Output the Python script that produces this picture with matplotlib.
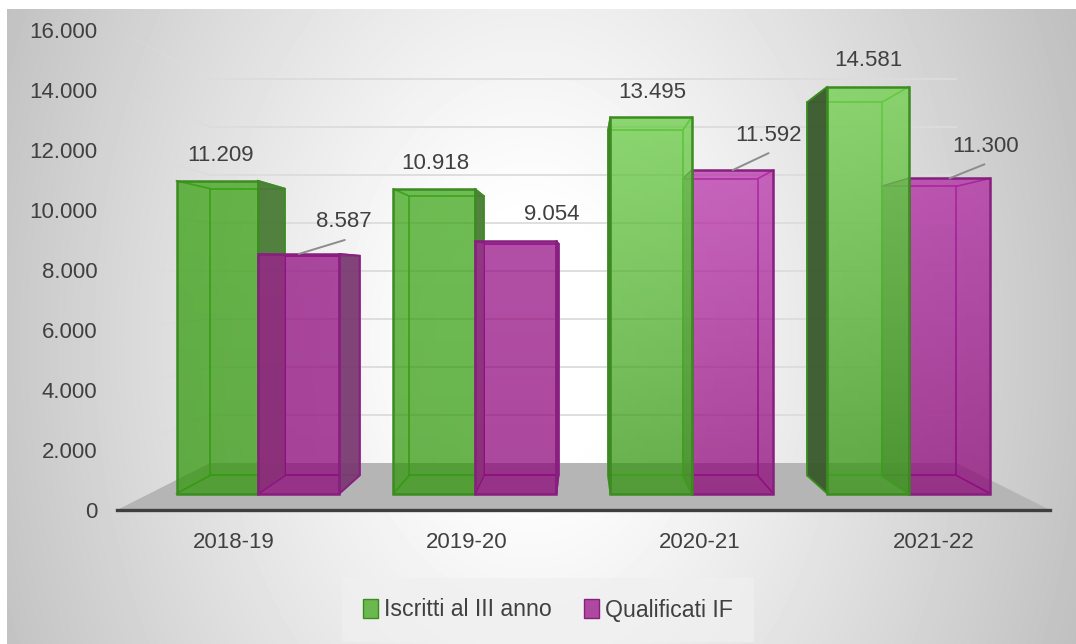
import numpy as np
import matplotlib
matplotlib.use("Agg")
import matplotlib.pyplot as plt
from matplotlib.patches import Patch, Polygon
from matplotlib.ticker import FuncFormatter

plt.rcParams['font.family'] = ['Liberation Sans', 'DejaVu Sans']

anni = ["2018-19", "2019-20", "2020-21", "2021-22"]
iscritti = [11209, 10918, 13495, 14581]
qualificati = [8587, 9054, 11592, 11300]
y_ticks = [0, 2000, 4000, 6000, 8000, 10000, 12000, 14000, 16000]

# label offsets from the top of the bar, pixels
off_iscritti = [(3, 25), (1, 25), (1, 25), (0, 26)]
off_qualificati = [(45, 32), (36, 26), (36, 35), (36, 32)]
leader_qualificati = [(46, 14), None, (36, 17), (35, 14)]

W, H = 1076, 644
TXT = "#404040"
FS = 16

# perspective: depth planes shrink towards a vanishing point
VX, VY = 1.494, 7833
S_WALL, S_FRONT, S_BACK = 0.80, 0.93, 0.853
BAR_W = 0.3756


def proj(x, y, s):
    return VX + s * (x - VX), VY + s * (y - VY)


def box(x, y, s):
    return [proj(x, 0, s), proj(x + BAR_W, 0, s), proj(x + BAR_W, y, s), proj(x, y, s)]


fig = plt.figure(figsize=(W / 100, H / 100), dpi=100, facecolor="white")

# background
bg = fig.add_axes([0, 0, 1, 1], zorder=0)
gx, gy = np.meshgrid(np.arange(W), np.arange(H))
d = np.sqrt(((gx - 530) / 560.0) ** 2 + ((gy - 340) / 800.0) ** 2)
grey = np.clip(1 - 0.28 * np.clip(d - 0.15, 0, None) ** 1.1, 0, 1)
bg.imshow(grey, cmap="gray", vmin=0, vmax=1, extent=(0, W, H, 0), aspect="auto")
bg.set_xlim(0, W)
bg.set_ylim(H, 0)
bg.axis("off")
for r in [(0, 0, W, 9), (0, 0, 7, H)]:
    bg.add_patch(plt.Rectangle(r[:2], r[2], r[3], color="white", lw=0))

ax = fig.add_axes([117 / W, (H - 510) / H, 933 / W, 480 / H], zorder=1)
ax.patch.set_alpha(0)
ax.set_xlim(-0.5, 3.5)
ax.set_ylim(0, 16000)

# floor
ax.add_patch(Polygon([proj(-0.5, 0, 1), proj(3.5, 0, 1), proj(3.5, 0, S_WALL), proj(-0.5, 0, S_WALL)],
                     fc="#b5b5b5", ec="none", clip_on=False, zorder=1))
# walls
for v in y_ticks[1:]:
    b = proj(-0.5, v, S_WALL)
    c = proj(3.5, v, S_WALL)
    ax.plot([b[0], c[0]], [b[1], c[1]], color="#dcdcdc", lw=1.3, clip_on=False, zorder=1)
    # side wall line fades out towards the front
    steps = np.linspace(S_WALL, 1, 11)
    for k in range(10):
        p, q = proj(-0.5, v, steps[k]), proj(-0.5, v, steps[k + 1])
        ax.plot([p[0], q[0]], [p[1], q[1]], color="#dcdcdc", lw=1.3, alpha=1 - k / 10, clip_on=False,
                zorder=1, solid_capstyle="butt")


def gradient_face(pts, top, bottom, z):
    # vertical gradient, clipped to the face
    ys = [p[1] for p in pts]
    xs = [p[0] for p in pts]
    t = np.linspace(0, 1, 64)[:, None, None]
    img = np.array(top)[None, None, :] * (1 - t) + np.array(bottom)[None, None, :] * t
    im = ax.imshow(img, extent=(min(xs), max(xs), min(ys), max(ys)), aspect="auto", origin="upper",
                   alpha=0.72, zorder=z, clip_on=True)
    poly = Polygon(pts, transform=ax.transData, fc="none", ec="none")
    ax.add_patch(poly)
    im.set_clip_path(poly)


def rgb(h):
    return np.array(matplotlib.colors.to_rgb(h))


def through(h):
    # colour that looks like h on white at alpha .72
    return np.clip((rgb(h) - 0.28) / 0.72, 0, 1)


def draw_bar(x, v, cols, edge, inner, dark, z, side_edge=True, dark_alpha=0.95, lighten=False):
    fb, bb = box(x, v, S_FRONT), box(x, v, S_BACK)
    left = [fb[0], bb[0], bb[3], fb[3]]
    right = [fb[1], bb[1], bb[2], fb[2]]
    # inner edges
    ax.add_patch(Polygon(bb, fc="none", ec=inner, lw=1.2, zorder=z, clip_on=False))
    for i in range(4):
        ax.plot([fb[i][0], bb[i][0]], [fb[i][1], bb[i][1]], color=inner, lw=1.2, zorder=z, clip_on=False)
    # the outer side, the one turned to the viewer, is dark
    side = right if x + BAR_W / 2 < VX else left
    ax.add_patch(Polygon(side, fc=dark, ec=edge if side_edge else "none", lw=1.3, alpha=dark_alpha,
                         zorder=z + 0.1, clip_on=False))
    if lighten:
        ax.add_patch(Polygon(left, fc="white", ec="none", alpha=0.35, zorder=z + 0.1, clip_on=False))
    gradient_face(fb, through(cols[0]), through(cols[1]), z + 0.2)
    ax.add_patch(Polygon(fb, fc="none", ec=edge, lw=1.8, zorder=z + 0.3, clip_on=False))
    return fb


green_cols = [("#6cba50", "#68b34c"), ("#6fbd54", "#68b34c"), ("#8ed973", "#68b04e"), ("#93dd78", "#68b04e")]
purple_cols = [("#ad4aa1", "#ab479d"), ("#b24fa6", "#ab479d"), ("#cb67c0", "#ab469c"), ("#c660bb", "#ab469c")]
gap = (1 - 2 * BAR_W) / 2
for i in range(len(anni)):
    x_g = i - 0.5 + gap
    x_q = x_g + BAR_W
    if i < 2:
        fg = draw_bar(x_g, iscritti[i], green_cols[i], "#3c8c22", "#4fa535", "#4a7a36", 3)
        fq = draw_bar(x_q, qualificati[i], purple_cols[i], "#871f7e", "#982a96", "#7a3a72", 4, lighten=True)
    else:
        fq = draw_bar(x_q, qualificati[i], purple_cols[i], "#871f7e", "#a030a0", "#8a8a8a", 3, side_edge=False,
                      dark_alpha=0.75)
        fg = draw_bar(x_g, iscritti[i], green_cols[i], "#3c8c22", "#62bd48", "#38592b", 4)
    cx, top = (fg[2][0] + fg[3][0]) / 2, fg[2][1]
    ax.annotate(f"{iscritti[i]:,}".replace(",", "."), (cx, top), xytext=off_iscritti[i], textcoords="offset pixels",
                ha="center", va="center", fontsize=FS, color=TXT, zorder=8, annotation_clip=False)
    cx, top = (fq[2][0] + fq[3][0]) / 2, fq[2][1]
    ax.annotate(f"{qualificati[i]:,}".replace(",", "."), (cx, top), xytext=off_qualificati[i], textcoords="offset pixels",
                ha="center", va="center", fontsize=FS, color=TXT, zorder=8, annotation_clip=False)
    if leader_qualificati[i]:
        ax.annotate("", (cx, top), xytext=leader_qualificati[i], textcoords="offset pixels", annotation_clip=False,
                    arrowprops=dict(arrowstyle="-", color="#8c8c8c", lw=1.4, shrinkA=0, shrinkB=0), zorder=8)

ax.set_xticks(range(len(anni)))
ax.set_xticklabels(anni)
ax.set_yticks(y_ticks)
ax.yaxis.set_major_formatter(FuncFormatter(lambda v, p: f"{int(v):,}".replace(",", ".")))
ax.tick_params(axis="both", length=0, labelsize=FS, labelcolor=TXT)
ax.tick_params(axis="y", pad=14)
ax.tick_params(axis="x", pad=16)
for s in ["top", "left", "right"]:
    ax.spines[s].set_visible(False)
ax.spines["bottom"].set_color("#3f3f3f")
ax.spines["bottom"].set_linewidth(2.4)
ax.spines["bottom"].set_zorder(6)

handles = [Patch(fc="#6ab84e", ec="#3c8c22", label="Iscritti al III anno"),
           Patch(fc="#ad4aa0", ec="#871f7e", label="Qualificati IF")]
leg = fig.legend(handles=handles, loc="center", bbox_to_anchor=(548 / W, (H - 610) / H), ncol=2, fontsize=16.7,
                 frameon=True, fancybox=False, handlelength=0.65, handleheight=0.9, handletextpad=0.25,
                 columnspacing=1.4, labelcolor=TXT, borderpad=0.9)
leg.get_frame().set_facecolor("#f0f0f0")
leg.get_frame().set_edgecolor("none")
leg.get_frame().set_alpha(0.7)

fig.savefig("out.png", dpi=100)
